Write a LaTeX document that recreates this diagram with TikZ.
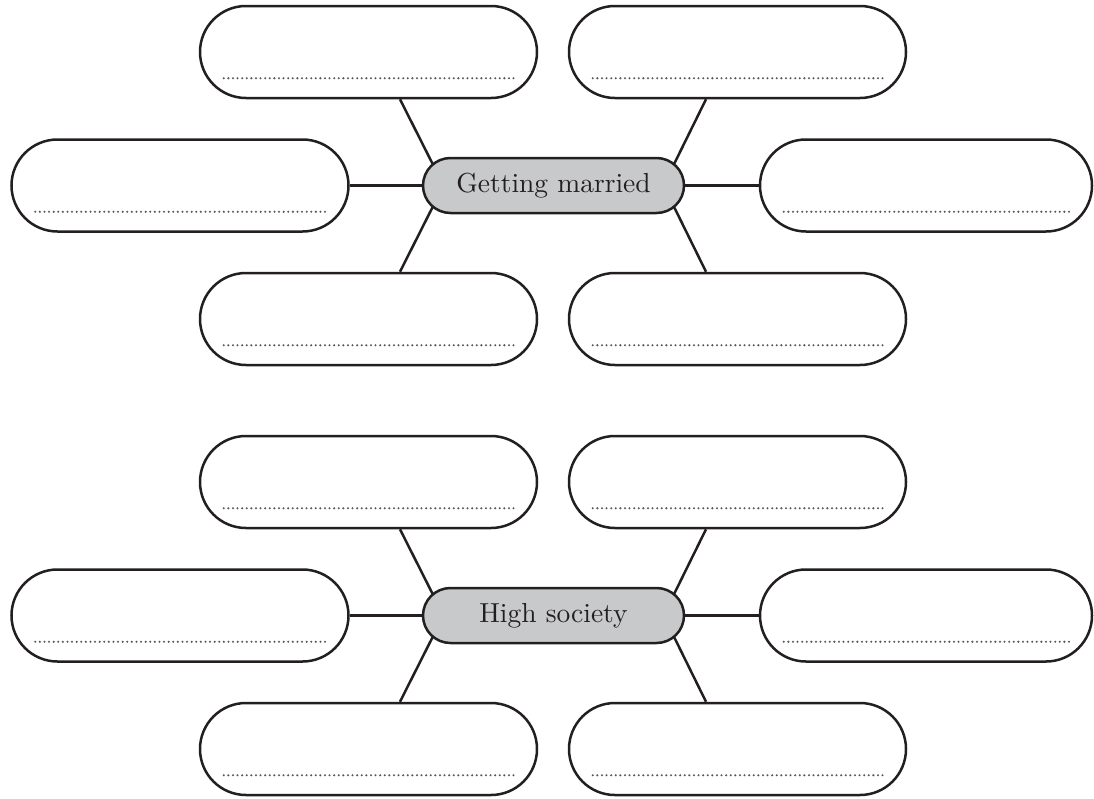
\documentclass[tikz,border=0pt]{standalone}
\usetikzlibrary{calc,backgrounds}
\definecolor{ink}{HTML}{231F20}
\definecolor{hubgray}{HTML}{C8C9CB}
\definecolor{dotgray}{HTML}{58595B}
\definecolor{txt}{HTML}{231F20}
\font\hubfont="[lmroman10-regular]" at 27.5pt
\tikzset{
  answer/.style={draw=ink, line width=2.5pt, fill=white, rounded corners=46pt,
    minimum width=337pt, minimum height=92pt, inner sep=0pt},
  hub/.style={draw=ink, line width=2.5pt, fill=hubgray, rounded corners=27.5pt,
    minimum width=261pt, minimum height=55pt, inner sep=0pt, text=txt,
    font=\hubfont},
  link/.style={draw=ink, line width=2.5pt},
  dotline/.style={draw=dotgray, line width=2.3pt, line cap=round, dash pattern=on 0pt off 4.6pt},
}
\newcommand\spider[3]{%
  \node[hub] (#1c) at (553.5,185.5+#2) {#3};
  \node[answer] (#1tl) at (368.5,52+#2) {};
  \node[answer] (#1tr) at (737.5,52+#2) {};
  \node[answer] (#1l)  at (180,185.5+#2) {};
  \node[answer, minimum width=332pt] (#1r) at (926,185.5+#2) {};
  \node[answer] (#1bl) at (368.5,319+#2) {};
  \node[answer] (#1br) at (737.5,319+#2) {};
  \foreach \b in {tl,tr,l,r,bl,br}{
    \draw[dotline] ($(#1\b.south west)+(25,-21)$) -- ($(#1\b.south east)+(-22,-21)$);
  }
  \begin{pgfonlayer}{background}
    \draw[link] ($(#1tl.south)+(31.5,0)$) -- ($(#1c.center)+(-110,0)$);
    \draw[link] ($(#1tr.south)+(-31.5,0)$) -- ($(#1c.center)+(110,0)$);
    \draw[link] ($(#1bl.north)+(31.5,0)$) -- ($(#1c.center)+(-110,0)$);
    \draw[link] ($(#1br.north)+(-31.5,0)$) -- ($(#1c.center)+(110,0)$);
    \draw[link] (#1l.east) -- (#1c.west);
    \draw[link] (#1c.east) -- (#1r.west);
  \end{pgfonlayer}
}
\begin{document}
\begin{tikzpicture}[x=1pt,y=-1pt]
  \useasboundingbox (0,0) rectangle (1094,798);
  \spider{a}{0}{Getting married}
  \spider{b}{430}{High society}
\end{tikzpicture}
\end{document}
